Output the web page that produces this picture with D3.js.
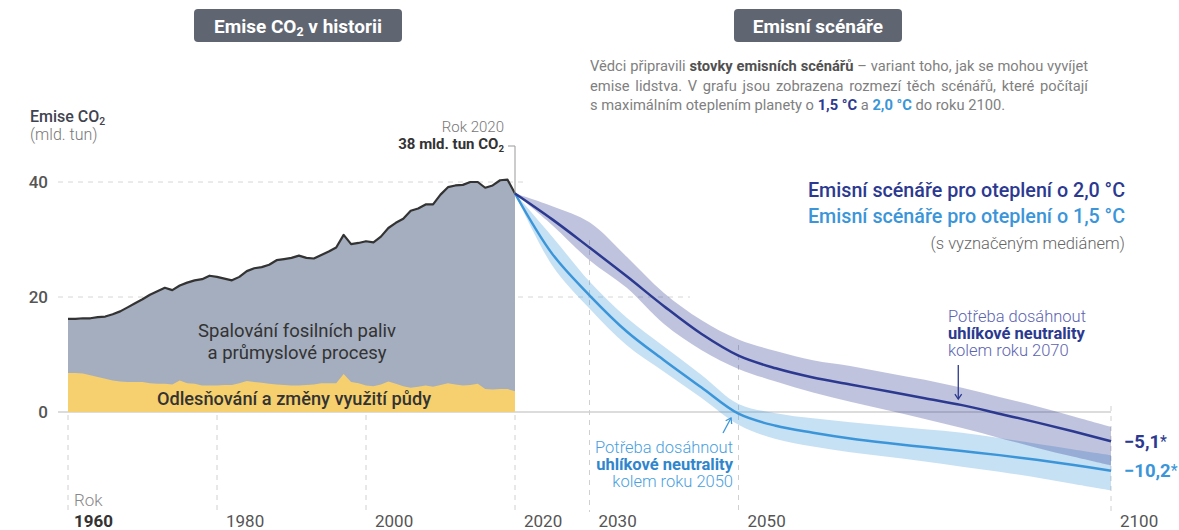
<!DOCTYPE html>
<html lang="cs">
<head>
<meta charset="utf-8">
<title>Emise CO2</title>
<script src="https://d3js.org/d3.v7.min.js"></script>
<style>
  body { margin: 0; background: #fff; }
  svg { display: block; font-family: Roboto, "Open Sans", sans-serif; }
</style>
</head>
<body>
<div id="chart"></div>
<script>
const width = 1179;
const height = 530;

// historical emissions (mld. tun CO2), 1960-2020
const histYears = d3.range(1960, 2021);
const histTotal = [16.2, 16.2, 16.3, 16.3, 16.5, 16.6, 17.0, 17.5, 18.2, 18.9,
  19.6, 20.4, 21.0, 21.6, 21.2, 22.0, 22.5, 22.9, 23.1, 23.7,
  23.5, 23.2, 22.9, 23.5, 24.5, 25.0, 25.2, 25.6, 26.4, 26.6,
  26.8, 27.2, 26.8, 26.7, 27.3, 27.9, 28.6, 30.8, 29.2, 29.4,
  29.7, 29.5, 30.5, 32.0, 32.9, 33.6, 35.0, 35.4, 36.1, 36.1,
  37.8, 39.1, 39.4, 39.5, 40.0, 40.0, 39.0, 39.4, 40.3, 40.4, 38.0];
const histLand = [6.8, 6.8, 6.7, 6.4, 6.1, 5.8, 5.5, 5.3, 5.2, 5.2,
  5.2, 5.0, 4.9, 4.9, 4.8, 5.5, 5.0, 4.9, 4.6, 4.6,
  4.6, 4.7, 4.7, 5.0, 5.4, 5.2, 5.1, 4.9, 4.8, 4.7,
  4.6, 4.6, 4.7, 4.8, 5.0, 5.0, 5.0, 6.6, 5.2, 5.0,
  4.6, 4.5, 4.8, 5.3, 4.9, 4.5, 4.2, 4.4, 4.6, 4.4,
  4.7, 5.0, 4.8, 4.6, 4.7, 4.9, 4.0, 3.9, 4.0, 4.0, 3.6];

// scenarios
const scenYears = [2020, 2025, 2030, 2035, 2040, 2045, 2050, 2055, 2060, 2065, 2070, 2075, 2080, 2085, 2090, 2095, 2100];
const med20 = [38, 33.5, 28.6, 23.6, 18.4, 13.6, 9.8, 7.6, 6.0, 4.8, 3.6, 2.4, 1.2, -0.3, -1.8, -3.4, -5.1];
const hi20  = [38, 35.8, 33.0, 27.0, 20.7, 16.0, 12.6, 10.6, 9.0, 8.0, 6.8, 5.6, 4.2, 2.6, 1.0, -0.8, -2.6];
const lo20  = [38, 32.5, 26.4, 21.6, 15.3, 10.8, 7.5, 5.3, 3.4, 1.8, 0.3, -1.2, -2.8, -4.5, -6.2, -7.8, -9.3];
const med15 = [38, 27.5, 20.3, 14.0, 9.0, 4.3, -0.3, -2.4, -3.6, -4.6, -5.4, -6.1, -6.8, -7.5, -8.3, -9.2, -10.2];
const hi15  = [38, 30.5, 22.7, 16.4, 11.4, 6.5, 1.4, -0.2, -1.1, -1.8, -2.4, -3.0, -3.6, -4.5, -5.5, -6.5, -7.5];
const lo15  = [38, 25.5, 18.0, 11.6, 7.0, 2.5, -2.2, -4.7, -6.0, -7.0, -7.8, -8.6, -9.5, -10.4, -11.4, -12.5, -13.6];

const yTicks = [0, 20, 40];
const xTicks = [1960, 1980, 2000, 2020, 2030, 2050, 2100];
const endLabels = ["\u22125,1", "\u221210,2"];

const navy = "#2b3990";
const sky = "#3b95d9";

const x = d3.scaleLinear().domain([1960, 2100]).range([68, 1111]);
const y = d3.scaleLinear().domain([0, 40]).range([412, 182]);

const svg = d3.select("#chart").append("svg")
  .attr("width", width)
  .attr("height", height);

// grid
const gridEnd = {0: 1111, 20: 690, 40: 526};
svg.append("g").selectAll("line")
  .data(yTicks)
  .join("line")
  .attr("x1", 58)
  .attr("x2", d => gridEnd[d])
  .attr("y1", d => y(d))
  .attr("y2", d => y(d))
  .attr("stroke", d => d === 0 ? "#d0d0d0" : "#d6d6d6")
  .attr("stroke-width", d => d === 0 ? 1.5 : 1)
  .attr("stroke-dasharray", d => d === 0 ? null : "5,5");

const vTop = {1960: 415, 1980: 415, 2000: 415, 2020: 415, 2030: 240, 2050: 345, 2100: 406};
svg.append("g").selectAll("line")
  .data(xTicks)
  .join("line")
  .attr("x1", d => x(d))
  .attr("x2", d => x(d))
  .attr("y1", d => vTop[d])
  .attr("y2", 512)
  .attr("stroke", "#d0d0d0")
  .attr("stroke-dasharray", "5,5");

// y axis labels
const yAxis = svg.append("g")
  .attr("transform", "translate(58,0)")
  .call(d3.axisLeft(y).tickValues(yTicks).tickSize(0).tickPadding(10));
yAxis.select(".domain").remove();
yAxis.selectAll("text")
  .attr("font-family", "Roboto")
  .attr("font-size", 17)
  .attr("font-weight", 500)
  .attr("fill", "#555")
  .attr("dy", "0.35em");

// history
const hist = histYears.map((yr, i) => ({yr, total: histTotal[i], land: histLand[i]}));

svg.append("path")
  .datum(hist)
  .attr("fill", "#a4aebe")
  .attr("d", d3.area().x(d => x(d.yr)).y0(y(0)).y1(d => y(d.total)));

svg.append("path")
  .datum(hist)
  .attr("fill", "#f6d06e")
  .attr("d", d3.area().x(d => x(d.yr)).y0(y(0)).y1(d => y(d.land)));

svg.append("path")
  .datum(hist)
  .attr("fill", "none")
  .attr("stroke", "#333")
  .attr("stroke-width", 2.2)
  .attr("stroke-linejoin", "round")
  .attr("d", d3.line().x(d => x(d.yr)).y(d => y(d.total)));

// 2020 marker
svg.append("line")
  .attr("x1", x(2020)).attr("x2", x(2020))
  .attr("y1", 146).attr("y2", y(38))
  .attr("stroke", "#999");
svg.append("line")
  .attr("x1", x(2020) - 7).attr("x2", x(2020))
  .attr("y1", 146).attr("y2", 146)
  .attr("stroke", "#999");

// scenarios
const scen = scenYears.map((yr, i) => ({yr, m20: med20[i], h20: hi20[i], l20: lo20[i], m15: med15[i], h15: hi15[i], l15: lo15[i]}));
const curve = d3.curveCatmullRom.alpha(0.5);

svg.append("path")
  .datum(scen)
  .attr("fill", sky)
  .attr("fill-opacity", 0.29)
  .attr("d", d3.area().curve(curve).x(d => x(d.yr)).y0(d => y(d.l15)).y1(d => y(d.h15)));

svg.append("path")
  .datum(scen)
  .attr("fill", navy)
  .attr("fill-opacity", 0.3)
  .attr("d", d3.area().curve(curve).x(d => x(d.yr)).y0(d => y(d.l20)).y1(d => y(d.h20)));

svg.append("path")
  .datum(scen)
  .attr("fill", "none")
  .attr("stroke", sky)
  .attr("stroke-width", 2.5)
  .attr("d", d3.line().curve(curve).x(d => x(d.yr)).y(d => y(d.m15)));

svg.append("path")
  .datum(scen)
  .attr("fill", "none")
  .attr("stroke", navy)
  .attr("stroke-width", 2.5)
  .attr("d", d3.line().curve(curve).x(d => x(d.yr)).y(d => y(d.m20)));

// end labels
const lastIdx = scenYears.length - 1;
[[med20[lastIdx], navy, endLabels[0]], [med15[lastIdx], sky, endLabels[1]]].forEach(([v, c, label]) => {
  const t = svg.append("text")
    .attr("x", x(2100) + 13)
    .attr("y", y(v) + 6.5)
    .attr("fill", c)
    .attr("font-size", 18.5)
    .attr("font-weight", 700);
  t.append("tspan").text(label);
  t.append("tspan").attr("font-weight", 400).attr("font-size", 16).attr("dy", -1).text("*");
});

// x labels
svg.append("g").selectAll("text")
  .data(xTicks)
  .join("text")
  .attr("x", d => x(d) + (d === 1960 ? 6 : 9))
  .attr("y", 527)
  .attr("font-size", 17)
  .attr("font-weight", d => d === 1960 ? 700 : 400)
  .attr("fill", d => d === 1960 ? "#333" : "#555")
  .text(d => d);
svg.append("text")
  .attr("x", x(1960) + 6).attr("y", 506)
  .attr("font-size", 17).attr("fill", "#888").attr("font-weight", 300)
  .text("Rok");

// helper for CO2 with subscript
function co2(sel, suffix) {
  sel.append("tspan").text("CO");
  sel.append("tspan").attr("font-size", "0.65em").attr("dy", 3).text("2");
  if (suffix) sel.append("tspan").attr("dy", -3).text(suffix);
}

// title boxes
function titleBox(cx, w, build) {
  svg.append("rect")
    .attr("x", cx - w / 2).attr("y", 9)
    .attr("width", w).attr("height", 33)
    .attr("rx", 4)
    .attr("fill", "#5f6672");
  const t = svg.append("text")
    .attr("x", cx).attr("y", 32.5)
    .attr("text-anchor", "middle")
    .attr("fill", "#fff")
    .attr("font-size", 19)
    .attr("font-weight", 700);
  build(t);
}
titleBox(298, 208, t => { t.append("tspan").text("Emise "); co2(t, " v historii"); });
titleBox(818, 168, t => t.text("Emisní scénáře"));

// y axis title
const yt = svg.append("text").attr("x", 30).attr("y", 122)
  .attr("font-size", 16).attr("font-weight", 500).attr("fill", "#3f4450");
yt.append("tspan").text("Emise ");
co2(yt);
svg.append("text").attr("x", 30).attr("y", 140)
  .attr("font-size", 16).attr("font-weight", 300).attr("fill", "#777")
  .text("(mld. tun)");

// 2020 label
svg.append("text").attr("x", 504).attr("y", 132)
  .attr("text-anchor", "end").attr("font-size", 15).attr("font-weight", 300).attr("fill", "#777")
  .text("Rok 2020");
const l38 = svg.append("text").attr("x", 504).attr("y", 149)
  .attr("text-anchor", "end").attr("font-size", 15).attr("font-weight", 700).attr("fill", "#333");
l38.append("tspan").text("38 mld. tun ");
co2(l38);

// area labels
svg.append("text").attr("x", 297).attr("y", 337)
  .attr("text-anchor", "middle").attr("font-size", 18.5).attr("fill", "#333")
  .text("Spalování fosilních paliv");
svg.append("text").attr("x", 297).attr("y", 359)
  .attr("text-anchor", "middle").attr("font-size", 18.5).attr("fill", "#333")
  .text("a průmyslové procesy");
svg.append("text").attr("x", 294).attr("y", 405)
  .attr("text-anchor", "middle").attr("font-size", 18.2).attr("font-weight", 500).attr("fill", "#333")
  .text("Odlesňování a změny využití půdy");

// description (first two lines justified by word spacing)
const grey = "#808080";
const desc = [
  [["Vědci připravili ", grey, 400], ["stovky emisních scénářů", "#505050", 700], [" – variant toho, jak se mohou vyvíjet", grey, 400]],
  [["emise lidstva. V grafu jsou zobrazena rozmezí těch scénářů, které počítají", grey, 400]],
  [["s maximálním oteplením planety o ", grey, 400], ["1,5 °C", navy, 700], [" a ", grey, 400], ["2,0 °C", sky, 700], [" do roku 2100.", grey, 400]]
];
const descLeft = 590, descRight = 1088;
desc.forEach((line, i) => {
  const t = svg.append("text")
    .attr("x", descLeft).attr("y", 71 + i * 19.5)
    .attr("font-size", 14.7);
  line.forEach(([s, c, w]) => t.append("tspan").attr("fill", c).attr("font-weight", w).text(s));
  if (i < 2) {
    const len = t.node().getComputedTextLength();
    const spaces = line.map(d => d[0]).join("").split(" ").length - 1;
    t.attr("word-spacing", (descRight - descLeft - len) / spaces);
  }
});

// legend
svg.append("text").attr("x", 1125).attr("y", 197)
  .attr("text-anchor", "end").attr("font-size", 19.7).attr("font-weight", 500).attr("fill", navy)
  .text("Emisní scénáře pro oteplení o 2,0 °C");
svg.append("text").attr("x", 1125).attr("y", 223)
  .attr("text-anchor", "end").attr("font-size", 19.7).attr("font-weight", 500).attr("fill", sky)
  .text("Emisní scénáře pro oteplení o 1,5 °C");
svg.append("text").attr("x", 1125).attr("y", 249)
  .attr("text-anchor", "end").attr("font-size", 16.5).attr("font-weight", 300).attr("fill", "#666")
  .text("(s vyznačeným mediánem)");

// annotations
function note(xp, yp, anchor, light, bold, lines) {
  lines.forEach((s, i) => {
    svg.append("text")
      .attr("x", xp).attr("y", yp + i * 17.2)
      .attr("text-anchor", anchor)
      .attr("font-size", 16.5)
      .attr("font-weight", i === 1 ? 700 : 300)
      .attr("fill", i === 1 ? bold : light)
      .text(s);
  });
}
note(948, 322, "start", "#5c63b0", navy, ["Potřeba dosáhnout", "uhlíkové neutrality", "kolem roku 2070"]);
note(733, 453, "end", "#4a9fe0", "#2f86cc", ["Potřeba dosáhnout", "uhlíkové neutrality", "kolem roku 2050"]);

// arrows
function arrow(x1, y1, x2, y2, c) {
  svg.append("line").attr("x1", x1).attr("y1", y1).attr("x2", x2).attr("y2", y2)
    .attr("stroke", c).attr("stroke-width", 1.3);
  const a = Math.atan2(y2 - y1, x2 - x1);
  const h = 6;
  const p = [
    [x2 - h * Math.cos(a - 0.6), y2 - h * Math.sin(a - 0.6)],
    [x2, y2],
    [x2 - h * Math.cos(a + 0.6), y2 - h * Math.sin(a + 0.6)]
  ];
  svg.append("path").attr("d", d3.line()(p)).attr("fill", "none")
    .attr("stroke", c).attr("stroke-width", 1.3);
}
arrow(x(2079.5), 365, x(2079.5), 399, navy);
arrow(723, 433, 731, 418, sky);
</script>
</body>
</html>
